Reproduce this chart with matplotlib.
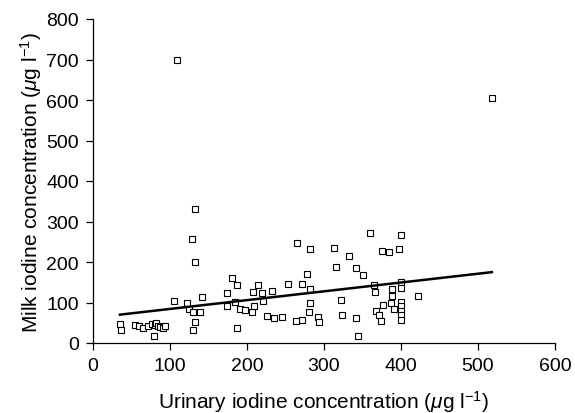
import matplotlib
matplotlib.use("Agg")
import matplotlib.pyplot as plt

plt.rcParams["font.family"] = ["Liberation Sans", "DejaVu Sans"]
plt.rcParams["mathtext.fontset"] = "custom"
plt.rcParams["mathtext.rm"] = "Liberation Sans"
plt.rcParams["mathtext.it"] = "Liberation Sans:italic"

# urinary iodine (x) vs milk iodine (y)
urinary = [35, 36, 55, 60, 65, 72, 77, 81, 82, 84, 87, 91, 94, 79,
           105, 122, 125, 130, 139, 142, 133, 130, 133, 128, 132, 109,
           180, 187, 174, 174, 184, 191, 198, 207, 209, 208, 214, 187,
           220, 221, 226,
           235, 246, 233, 253, 265, 272, 278, 282, 282, 282, 280, 292, 293, 272, 264,
           313, 316, 322, 324, 332, 342, 341, 344, 351,
           360, 400, 398, 375, 385, 365, 366, 388, 388, 387, 422, 376,
           391, 368, 371, 374,
           400, 400, 400, 400, 400, 400, 400,
           518]
milk = [47, 31, 45, 41, 37, 41, 46, 45, 50, 41, 39, 36, 43, 18,
        104, 98, 84, 77, 77, 113, 51, 33, 201, 257, 332, 698,
        160, 144, 123, 92, 101, 84, 82, 77, 91, 125, 144, 36,
        123, 103, 66,
        62, 65, 128, 146, 248, 146, 171, 233, 134, 99, 76, 64, 51, 57, 54,
        235, 187, 107, 69, 215, 185, 61, 17, 169,
        271, 266, 233, 226, 225, 142, 127, 134, 117, 99, 116, 95,
        84, 80, 68, 54,
        150, 136, 102, 92, 80, 68, 58,
        604]

# fitted trend line end points
trend_x = [35, 518]
trend_y = [70, 175]

fig = plt.figure(figsize=(5.75, 4.14), dpi=100)
ax = fig.add_axes([93 / 575, 1 - 344 / 414, 462 / 575, 324 / 414])

ax.plot(urinary, milk, linestyle="none", marker="s", markersize=4.8,
        markerfacecolor="white", markeredgecolor="black", markeredgewidth=0.8)
ax.plot(trend_x, trend_y, color="black", linewidth=1.8)

ax.set_xlim(0, 600)
ax.set_ylim(0, 800)
ax.set_xticks(range(0, 601, 100))
ax.set_yticks(range(0, 801, 100))
ax.spines["top"].set_visible(False)
ax.spines["right"].set_visible(False)
ax.spines["left"].set_linewidth(0.9)
ax.spines["bottom"].set_linewidth(0.9)
ax.tick_params(direction="out", length=5, width=0.9, labelsize=14, pad=5)

ax.set_xlabel(r"Urinary iodine concentration ($\mu$g l$^{-1}$)", fontsize=15, labelpad=10)
ax.set_ylabel(r"Milk iodine concentration ($\mu$g l$^{-1}$)", fontsize=15, labelpad=2)

fig.savefig("out.png", dpi=100)
plt.close(fig)
